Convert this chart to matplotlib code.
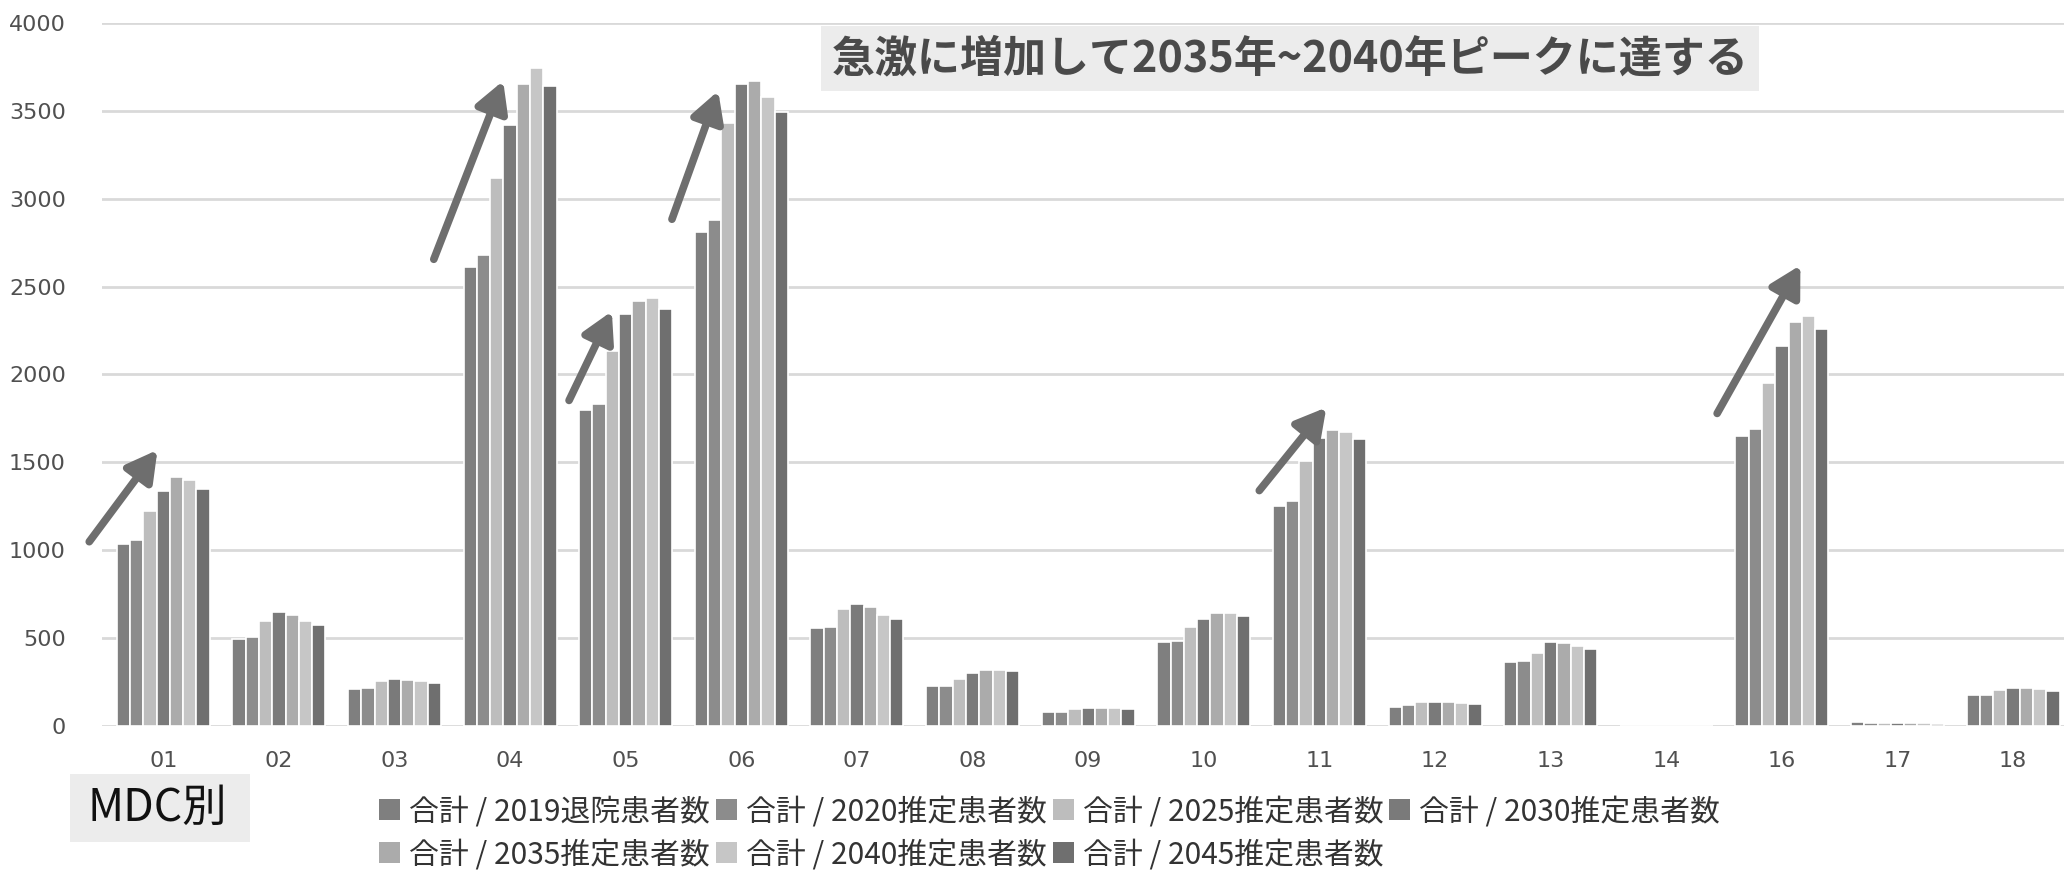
import matplotlib.pyplot as plt
from matplotlib.patches import Patch, Rectangle
import numpy as np

plt.rcParams['font.family'] = ['Noto Sans CJK JP', 'DejaVu Sans']

# MDC categories
categories = ['01', '02', '03', '04', '05', '06', '07', '08', '09',
              '10', '11', '12', '13', '14', '16', '17', '18']

# values per series
v2019 = [1035, 492, 208, 2610, 1795, 2810, 555, 225, 80, 475, 1250, 110, 365, 0, 1650, 20, 175]
v2020 = [1058, 505, 213, 2680, 1830, 2880, 560, 228, 80, 482, 1280, 120, 372, 0, 1690, 18, 175]
v2025 = [1225, 598, 255, 3120, 2135, 3430, 665, 265, 95, 560, 1505, 135, 415, 0, 1950, 17, 205]
v2030 = [1335, 650, 266, 3420, 2345, 3650, 695, 300, 100, 610, 1640, 135, 475, 0, 2160, 18, 215]
v2035 = [1415, 630, 260, 3650, 2420, 3670, 675, 318, 100, 640, 1685, 135, 470, 0, 2300, 16, 215]
v2040 = [1400, 598, 255, 3745, 2435, 3580, 630, 320, 100, 645, 1670, 130, 455, 0, 2330, 15, 210]
v2045 = [1350, 575, 245, 3640, 2375, 3495, 610, 315, 95, 625, 1630, 125, 440, 0, 2260, 12, 200]

series = [v2019, v2020, v2025, v2030, v2035, v2040, v2045]
labels = ['合計 / 2019退院患者数', '合計 / 2020推定患者数', '合計 / 2025推定患者数',
          '合計 / 2030推定患者数', '合計 / 2035推定患者数', '合計 / 2040推定患者数',
          '合計 / 2045推定患者数']
colors = ['#7f7f7f', '#8c8c8c', '#bdbdbd', '#7a7a7a', '#ababab', '#c6c6c6', '#6f6f6f']

fig = plt.figure(figsize=(20.64, 8.82), dpi=100)
ax = fig.add_axes([0.0494, 0.177, 0.9506, 0.797])

x = np.arange(len(categories))
w = 0.115
for i, vals in enumerate(series):
    ax.bar(x + (i - 3) * w, vals, width=w, color=colors[i],
           edgecolor='white', linewidth=1.2, zorder=3)

ax.set_xlim(-0.53, 16.44)
ax.set_ylim(0, 4000)
ax.set_yticks(range(0, 4001, 500))
ax.yaxis.grid(True, color='#d9d9d9', linewidth=2, zorder=0)
for s in ax.spines.values():
    s.set_visible(False)
ax.tick_params(axis='both', length=0, labelsize=16, colors='#505050')
ax.tick_params(axis='y', pad=26)
ax.tick_params(axis='x', pad=18)
ax.set_xticks(x)
ax.set_xticklabels(categories)
for t in ax.get_xticklabels() + ax.get_yticklabels():
    t.set_family('DejaVu Sans')

# arrows (tail -> head, data coords)
arrows = [((-0.64, 1048), (-0.05, 1570)),
          ((2.34, 2655), (2.94, 3670)),
          ((3.51, 1852), (3.88, 2359)),
          ((4.40, 2883), (4.80, 3613)),
          ((9.48, 1339), (10.06, 1812)),
          ((13.44, 1778), (14.16, 2621))]
for tail, head in arrows:
    ax.annotate('', xy=head, xytext=tail, annotation_clip=False,
                arrowprops=dict(arrowstyle='-|>,head_length=0.9,head_width=0.5',
                                mutation_scale=20, lw=5.5, color='#6e6e6e',
                                shrinkA=0, shrinkB=0), zorder=5)

# title box
fig.text(0.4030, 0.9335, '急激に増加して2035年~2040年ピークに達する',
         fontsize=31, fontweight='bold', color='#4a4a4a', va='center', ha='left',
         bbox=dict(boxstyle='square,pad=0.25', facecolor='#ececec', edgecolor='none'))

# MDC別 label
fig.patches.append(Rectangle((0.0339, 0.0454), 0.0872, 0.0771, transform=fig.transFigure,
                             facecolor='#ececec', edgecolor='none'))
fig.text(0.0426, 0.084, 'MDC別', fontsize=32, color='#111111', va='center', ha='left')

handles = [Patch(facecolor=c, edgecolor='none') for c in colors]
order = [0, 4, 1, 5, 2, 6, 3]
fig.legend([handles[i] for i in order], [labels[i] for i in order],
           loc='upper left', bbox_to_anchor=(0.178, 0.111), ncol=4, frameon=False,
           fontsize=21.5, handlelength=0.7, handleheight=0.7, handletextpad=0.3,
           columnspacing=0.2, labelspacing=0.41, borderaxespad=0, labelcolor='#333333')

fig.savefig('out.png', dpi=100)
